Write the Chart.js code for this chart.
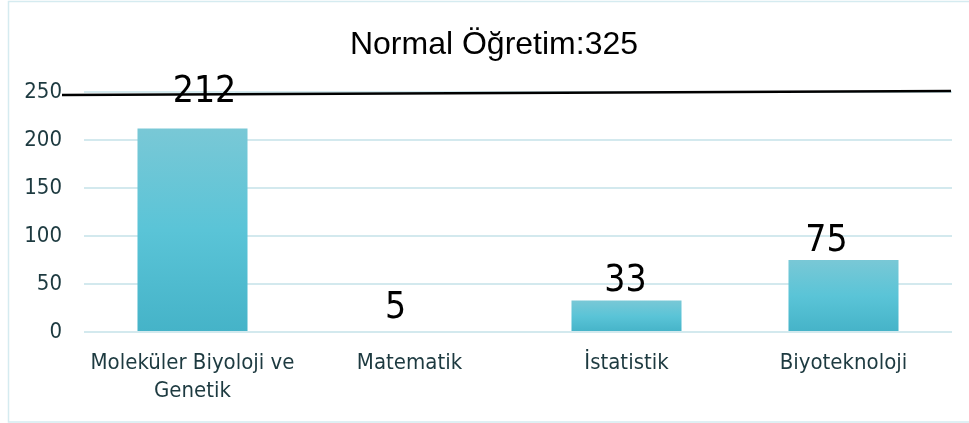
<!DOCTYPE html>
<html>
<head>
<meta charset="utf-8">
<script src="https://cdn.jsdelivr.net/npm/chart.js@4.4.1/dist/chart.umd.min.js"></script>
<style>
  html, body { margin: 0; padding: 0; background: #ffffff; }
  #wrap { width: 969px; height: 423px; position: relative; }
</style>
</head>
<body>
<div id="wrap"><canvas id="c" width="969" height="423"></canvas></div>
<script>
// ---- data ----
const chartTitle = 'Normal Öğretim:325';
const categories = [['Moleküler Biyoloji ve', 'Genetik'], 'Matematik', 'İstatistik', 'Biyoteknoloji'];
const values = [212, 5, 33, 75];
const yTicks = [0, 50, 100, 150, 200, 250];

// ---- style-only arrays (not data) ----
const labelDx = [12, -14, -1, -17];
const labelDy = [-17, 0, 0, 0];
const barVisible = [true, false, true, true];

const axisFont = '"DejaVu Sans Condensed", "DejaVu Sans", sans-serif';
const textColor = '#1d3a40';
const gridColor = '#d3e9ee';

const frame = {
  id: 'frame',
  beforeDraw(chart) {
    const ctx = chart.ctx;
    ctx.save();
    ctx.fillStyle = '#ffffff';
    ctx.fillRect(0, 0, chart.width, chart.height);
    ctx.strokeStyle = '#d5ebf0';
    ctx.lineWidth = 1.5;
    ctx.strokeRect(8.5, 1.5, chart.width + 5, chart.height - 2.5);
    ctx.restore();
  }
};

// let the y tick labels use the space left of the axis box (no clipping)
const unclipY = {
  id: 'unclipY',
  afterLayout(chart) { chart.scales.y.left = 0; }
};

const topLine = {
  id: 'topLine',
  afterDatasetsDraw(chart) {
    const ctx = chart.ctx;
    const a = chart.chartArea;
    const y = chart.scales.y.getPixelForValue(yTicks[yTicks.length - 1]);
    ctx.save();
    ctx.strokeStyle = '#000000';
    ctx.lineWidth = 2.5;
    ctx.beginPath();
    ctx.moveTo(a.left - 22, y + 3);
    ctx.lineTo(a.right - 1, y - 1);
    ctx.stroke();
    ctx.restore();
  }
};

const valueLabels = {
  id: 'valueLabels',
  afterDatasetsDraw(chart) {
    const ctx = chart.ctx;
    const meta = chart.getDatasetMeta(0);
    ctx.save();
    ctx.fillStyle = '#000000';
    ctx.font = '37px ' + axisFont;
    ctx.textAlign = 'center';
    ctx.textBaseline = 'alphabetic';
    meta.data.forEach((bar, i) => {
      ctx.fillText(String(values[i]), bar.x + labelDx[i], bar.y - 9 + labelDy[i]);
    });
    ctx.restore();
  }
};

function barFill(context) {
  const i = context.dataIndex;
  if (!barVisible[i]) return 'rgba(0,0,0,0)';
  const chart = context.chart;
  const ys = chart.scales && chart.scales.y;
  if (!chart.chartArea || !ys) return '#5bc4d6';
  const top = ys.getPixelForValue(values[i]);
  const bottom = ys.getPixelForValue(0);
  if (!isFinite(top) || !isFinite(bottom) || top === bottom) return '#5bc4d6';
  const g = chart.ctx.createLinearGradient(0, top, 0, bottom);
  g.addColorStop(0, '#79c8d6');
  g.addColorStop(0.5, '#5ac4d7');
  g.addColorStop(1, '#45b3c8');
  return g;
}

new Chart(document.getElementById('c'), {
  type: 'bar',
  data: {
    labels: categories,
    datasets: [{
      data: values,
      backgroundColor: barFill,
      borderWidth: 0,
      categoryPercentage: 1.0,
      barPercentage: 0.507
    }]
  },
  options: {
    responsive: false,
    animation: false,
    devicePixelRatio: 1,
    layout: { padding: { left: 36, right: 17, top: 0, bottom: 1 } },
    plugins: {
      legend: { display: false },
      tooltip: { enabled: false },
      title: {
        display: true,
        text: chartTitle,
        color: '#000000',
        font: { family: '"Liberation Sans", Arial, sans-serif', size: 32, weight: 'normal', lineHeight: 1.2 },
        padding: { top: 26, bottom: 27.5 }
      }
    },
    scales: {
      x: {
        grid: { display: false, drawTicks: false },
        border: { display: false },
        ticks: {
          color: textColor,
          font: { family: axisFont, size: 22, lineHeight: 1.27 },
          padding: 17,
          maxRotation: 0,
          autoSkip: false
        }
      },
      y: {
        min: yTicks[0],
        max: yTicks[yTicks.length - 1],
        afterBuildTicks(scale) { scale.ticks = yTicks.map(v => ({ value: v })); },
        afterFit(scale) { scale.width = 48; },
        grid: { color: gridColor, lineWidth: 2, drawTicks: false },
        border: { display: false },
        ticks: {
          color: textColor,
          font: { family: axisFont, size: 22 },
          padding: 22
        }
      }
    }
  },
  plugins: [frame, unclipY, topLine, valueLabels]
});
</script>
</body>
</html>
